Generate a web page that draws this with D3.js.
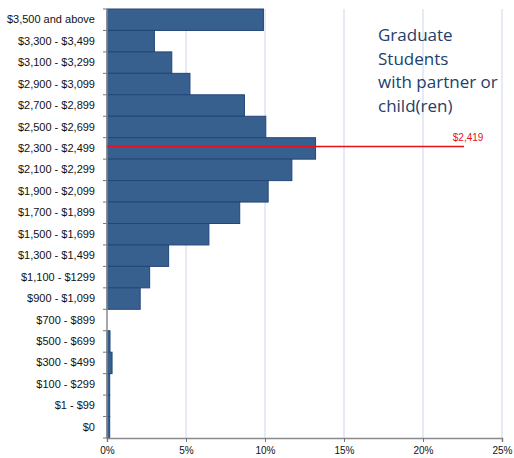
<!DOCTYPE html>
<html>
<head>
<meta charset="utf-8">
<script src="https://cdn.jsdelivr.net/npm/d3@7"></script>
<style>
  body { margin: 0; background: #fff; }
  svg { display: block; }
</style>
</head>
<body>
<div id="root"></div>
<script>
"use strict";

// income bands, top to bottom
const categories = [
    "$3,500 and above", "$3,300 - $3,499", "$3,100 - $3,299", "$2,900 - $3,099",
    "$2,700 - $2,899", "$2,500 - $2,699", "$2,300 - $2,499", "$2,100 - $2,299",
    "$1,900 - $2,099", "$1,700 - $1,899", "$1,500 - $1,699", "$1,300 - $1,499",
    "$1,100 - $1299", "$900 - $1,099", "$700 - $899", "$500 - $699",
    "$300 - $499", "$100 - $299", "$1 - $99", "$0"
];
// share of students (fraction)
const shares = [
    0.099, 0.030, 0.041, 0.0525,
    0.087, 0.1005, 0.132, 0.117,
    0.102, 0.084, 0.0645, 0.039,
    0.027, 0.021, 0, 0.0019,
    0.0032, 0.0017, 0.0017, 0.0017
];
const xTicks = [0, 0.05, 0.10, 0.15, 0.20, 0.25];

// median marker
const median = 2419;
const medianBand = "$2,300 - $2,499";
const medianBandLow = 2300, medianBandHigh = 2500;
const medianLineEnd = 0.226;

const titleLines = ["Graduate", "Students", "with partner or", "child(ren)"];

const width = 514, height = 458;
const margin = { top: 9, right: 12, bottom: 20, left: 107 };

const svg = d3.select("#root").append("svg")
    .attr("width", width)
    .attr("height", height);

const x = d3.scaleLinear()
    .domain([0, 0.25])
    .range([margin.left, width - margin.right]);

const y = d3.scaleBand()
    .domain(categories)
    .range([margin.top, height - margin.bottom])
    .padding(0);

// gridlines
svg.append("g")
    .selectAll("line")
    .data(xTicks.slice(1))
    .enter().append("line")
    .attr("x1", d => x(d)).attr("x2", d => x(d))
    .attr("y1", margin.top).attr("y2", height - margin.bottom)
    .attr("stroke", "#dce3f1")
    .attr("stroke-width", 1.5);

// bars
const data = categories.map((c, i) => ({ name: c, value: shares[i] }));
svg.append("g")
    .selectAll("rect")
    .data(data.filter(d => d.value > 0))
    .enter().append("rect")
    .attr("x", x(0))
    .attr("y", d => y(d.name))
    .attr("width", d => x(d.value) - x(0))
    .attr("height", y.bandwidth())
    .attr("fill", "#37608f")
    .attr("stroke", "#23467a")
    .attr("stroke-width", 1);

// left axis: labels at band centres, ticks at band edges
const yAxis = svg.append("g")
    .attr("transform", `translate(${margin.left},0)`)
    .call(d3.axisLeft(y).tickSize(0).tickPadding(12));
yAxis.select(".domain").remove();
yAxis.selectAll("text")
    .attr("font-family", "Liberation Sans, Arial, sans-serif")
    .attr("font-size", 11)
    .attr("fill", "#111");

const edges = categories.map(c => y(c)).concat([y.range()[1]]);
svg.append("g")
    .selectAll("line")
    .data(edges)
    .enter().append("line")
    .attr("x1", margin.left - 4).attr("x2", margin.left)
    .attr("y1", d => d).attr("y2", d => d)
    .attr("stroke", "#777");
svg.append("line")
    .attr("x1", margin.left).attr("x2", margin.left)
    .attr("y1", margin.top).attr("y2", height - margin.bottom)
    .attr("stroke", "#8a8a8a")
    .attr("stroke-width", 1.5);

// bottom axis
const xAxis = svg.append("g")
    .attr("transform", `translate(0,${height - margin.bottom})`)
    .call(d3.axisBottom(x).tickValues(xTicks).tickFormat(d3.format(".0%")).tickSize(4).tickPadding(5));
xAxis.select(".domain").attr("stroke", "#8a8a8a").attr("stroke-width", 1.5);
xAxis.selectAll(".tick line").attr("stroke", "#777");
xAxis.selectAll("text")
    .attr("font-family", "Liberation Sans, Arial, sans-serif")
    .attr("font-size", 10)
    .attr("fill", "#111");

// median line
const frac = (median - medianBandLow) / (medianBandHigh - medianBandLow);
const yMed = y(medianBand) + y.bandwidth() * (1 - frac);
svg.append("line")
    .attr("x1", x(0)).attr("x2", x(medianLineEnd))
    .attr("y1", yMed).attr("y2", yMed)
    .attr("stroke", "#e8101a")
    .attr("stroke-width", 1.5);
svg.append("text")
    .attr("x", x(medianLineEnd) + 4)
    .attr("y", yMed - 5)
    .attr("text-anchor", "middle")
    .attr("font-family", "Liberation Sans, Arial, sans-serif")
    .attr("font-size", 10)
    .attr("fill", "#e8101a")
    .text("$" + d3.format(",")(median));

// title block
svg.append("text")
    .attr("font-family", "Open Sans, sans-serif")
    .attr("font-size", 17)
    .attr("fill", "#23406a")
    .selectAll("tspan")
    .data(titleLines)
    .enter().append("tspan")
    .attr("x", 378)
    .attr("y", (d, i) => 41 + i * 23.5)
    .text(d => d);
</script>
</body>
</html>
